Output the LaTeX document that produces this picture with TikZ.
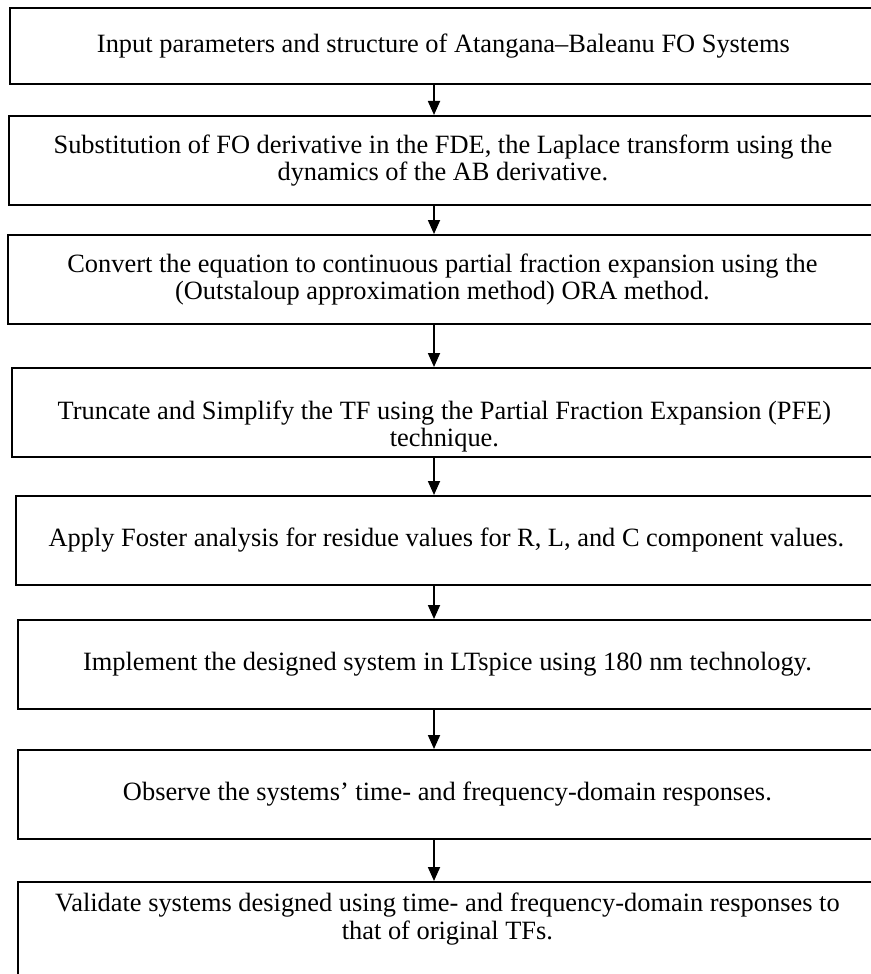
\documentclass[tikz,border=0pt]{standalone}
\usepackage{fontspec}
\setmainfont{Liberation Serif}
\usetikzlibrary{arrows.meta}

\begin{document}
\begin{tikzpicture}[x=0.5pt, y=-0.5pt,
    stepbox/.style={draw, line width=0.9pt, anchor=north west, minimum height=44.5pt,
        align=center, inner sep=0pt, font=\fontsize{13.2}{13.8}\selectfont},
    steptext/.style={align=center, inner sep=0pt, font=\fontsize{13.2}{13.8}\selectfont},
    flow/.style={line width=0.9pt, -{Triangle[length=7pt, width=6pt]}},
]
\useasboundingbox (0,0) rectangle (871,974);
\clip (0,0) rectangle (871,974);

% Steps of the flow
\node[stepbox, minimum width=433.5pt, minimum height=38pt] (b1) at (9,7)
    {Input parameters and structure of Atangana--Baleanu FO Systems};
\node[stepbox, minimum width=434pt] (b2) at (8,115)
    {Substitution of FO derivative in the FDE, the Laplace transform using the\\
     dynamics of the AB derivative.};
\node[stepbox, minimum width=434.5pt] (b3) at (7,234)
    {Convert the equation to continuous partial fraction expansion using the\\
     (Outstaloup approximation method) ORA method.};
\node[stepbox, minimum width=432.5pt] (b4) at (11,367) {};
\node[steptext] (t4) at ([yshift=-7pt]b4.center)
    {Truncate and Simplify the TF using the Partial Fraction Expansion (PFE)\\
     technique.};
\node[stepbox, minimum width=430.5pt] (b5) at (15,495)
    {Apply Foster analysis for residue values for R, L, and C component values.};
\node[stepbox, minimum width=429.5pt] (b6) at (17,619)
    {Implement the designed system in LTspice using 180 nm technology.};
\node[stepbox, minimum width=429.5pt] (b7) at (17,749)
    {Observe the systems’ time- and frequency-domain responses.};
\node[stepbox, minimum width=429.5pt, minimum height=60pt] (b8) at (17,881) {};
\node[steptext] (t8) at ([yshift=-19pt]b8.north)
    {Validate systems designed using time- and frequency-domain responses to\\
     that of original TFs.};

% Arrows
\coordinate (ax) at (434,0);
\foreach \a/\b in {b1/b2, b2/b3, b3/b4, b4/b5, b5/b6, b6/b7, b7/b8} {
    \draw[flow] (\a.south -| ax) -- (\b.north -| ax);
}

\end{tikzpicture}
\end{document}
